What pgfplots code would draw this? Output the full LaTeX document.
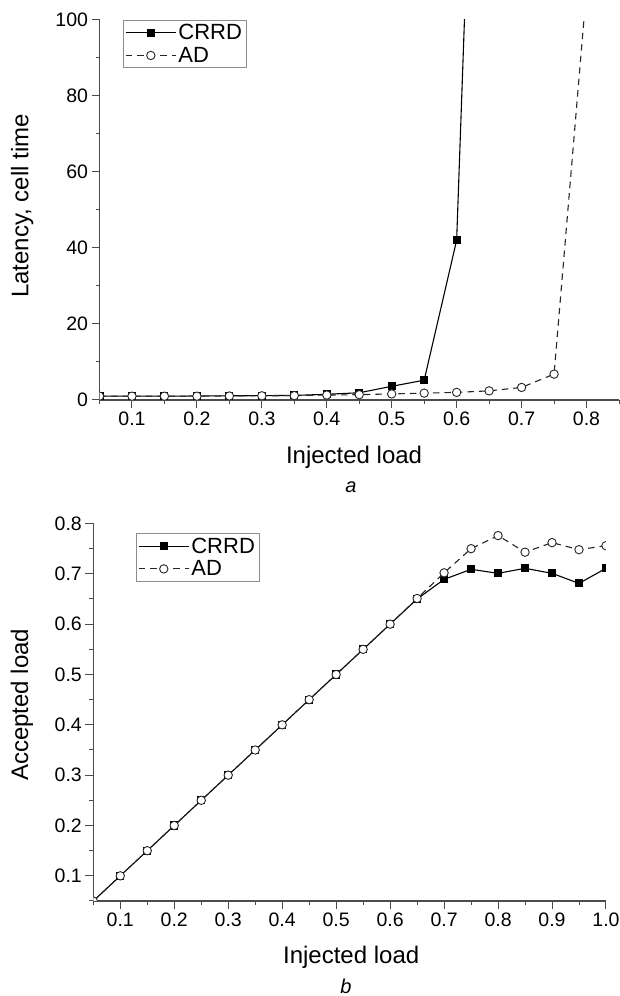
\documentclass[border=0pt]{standalone}
\usepackage{fontspec}
\setmainfont{Liberation Sans}
\usepackage{pgfplots}
\pgfplotsset{compat=1.18}

\pgfplotsset{
  panel/.style={
    scale only axis,
    axis lines*=left,
    axis line style={black!70, line width=1.2pt},
    tick align=outside,
    major tick length=8pt,
    minor tick length=4pt,
    tick style={black!70, line width=1pt},
    tick label style={font=\fontsize{19.5}{21}\selectfont},
    /pgf/number format/assume math mode=true,
    label style={font=\fontsize{24}{27}\selectfont},
    clip marker paths=true,
    legend style={draw=black!45, line width=0.8pt, anchor=north west,
      font=\fontsize{22}{24}\selectfont, inner xsep=2pt, inner ysep=2pt,
      row sep=2pt, cells={anchor=west}},
    legend image code/.code={\draw[mark repeat=2,mark phase=2]
      plot coordinates {(0pt,0pt) (25pt,0pt) (50pt,0pt)};},
  },
  crrd/.style={black, line width=1.1pt, mark=square*, mark size=3.5pt,
    mark options={solid, fill=black}},
  ad/.style={black!85, line width=1.1pt, dash pattern=on 6.5pt off 5pt,
    mark=*, mark size=4.2pt,
    mark options={solid, draw=black!85, fill=white, line width=0.9pt}},
}

\begin{document}
\begin{tikzpicture}
\path[use as bounding box] (0pt,0pt) rectangle (619pt,996pt);

% a: latency
\begin{axis}[panel,
  at={(99.5pt,596pt)}, anchor=south west,
  width=519.5pt, height=380.5pt,
  xmin=0.05, xmax=0.85, ymin=0, ymax=100,
  xtick={0.1,0.2,0.3,0.4,0.5,0.6,0.7,0.8},
  minor xtick={0.05,0.15,0.25,0.35,0.45,0.55,0.65,0.75,0.85},
  ytick={0,20,40,60,80,100},
  minor ytick={10,30,50,70,90},
  xticklabel style={/pgf/number format/.cd, fixed, fixed zerofill, precision=1},
  xlabel={Injected load},
  ylabel={Latency, cell time},
  xlabel style={at={(axis description cs:0.49,-0.15)}, anchor=center},
  ylabel style={at={(axis description cs:-0.149,0.51)}, anchor=center},
  legend style={at={(axis description cs:0.045,0.999)}},
]
\addplot[crrd] coordinates {
(0.05,1.0) (0.10,1.0) (0.15,1.0) (0.20,1.05) (0.25,1.1) (0.30,1.15)
(0.35,1.2) (0.40,1.5) (0.45,1.9) (0.50,3.6) (0.55,5.2) (0.60,42) (0.65,283)
};
\addlegendentry{CRRD}
\addplot[ad] coordinates {
(0.05,1.0) (0.10,1.0) (0.15,1.0) (0.20,1.0) (0.25,1.05) (0.30,1.1)
(0.35,1.15) (0.40,1.3) (0.45,1.4) (0.50,1.6) (0.55,1.8) (0.60,2.0)
(0.65,2.4) (0.70,3.3) (0.75,6.8) (0.80,108)
};
\addlegendentry{AD}
\end{axis}

% b: throughput
\begin{axis}[panel,
  at={(93.3pt,95pt)}, anchor=south west,
  width=512.7pt, height=377.5pt,
  xmin=0.05, xmax=1.0, ymin=0.05, ymax=0.8,
  xtick={0.1,0.2,0.3,0.4,0.5,0.6,0.7,0.8,0.9,1.0},
  minor xtick={0.05,0.15,0.25,0.35,0.45,0.55,0.65,0.75,0.85,0.95},
  ytick={0.1,0.2,0.3,0.4,0.5,0.6,0.7,0.8},
  minor ytick={0.05,0.15,0.25,0.35,0.45,0.55,0.65,0.75},
  xticklabel style={/pgf/number format/.cd, fixed, fixed zerofill, precision=1},
  yticklabel style={/pgf/number format/.cd, fixed, fixed zerofill, precision=1},
  xlabel={Injected load},
  ylabel={Accepted load},
  xlabel style={at={(axis description cs:0.503,-0.148)}, anchor=center},
  ylabel style={at={(axis description cs:-0.139,0.52)}, anchor=center},
  legend style={at={(axis description cs:0.083,0.974)}},
]
\addplot[crrd] coordinates {
(0.05,0.05) (0.10,0.10) (0.15,0.15) (0.20,0.20) (0.25,0.25) (0.30,0.30)
(0.35,0.35) (0.40,0.40) (0.45,0.45) (0.50,0.50) (0.55,0.55) (0.60,0.60)
(0.65,0.65) (0.70,0.689) (0.75,0.709) (0.80,0.701) (0.85,0.711)
(0.90,0.701) (0.95,0.681) (1.00,0.711)
};
\addlegendentry{CRRD}
\addplot[ad] coordinates {
(0.05,0.05) (0.10,0.10) (0.15,0.15) (0.20,0.20) (0.25,0.25) (0.30,0.30)
(0.35,0.35) (0.40,0.40) (0.45,0.45) (0.50,0.50) (0.55,0.55) (0.60,0.60)
(0.65,0.651) (0.70,0.702) (0.75,0.750) (0.80,0.776) (0.85,0.743)
(0.90,0.762) (0.95,0.748) (1.00,0.756)
};
\addlegendentry{AD}
\end{axis}

% panel captions
\node[font=\fontsize{20}{22}\selectfont\itshape, inner sep=0pt] at (351pt,509pt) {a};
\node[font=\fontsize{20}{22}\selectfont\itshape, inner sep=0pt] at (346pt,10pt) {b};
\end{tikzpicture}
\end{document}
